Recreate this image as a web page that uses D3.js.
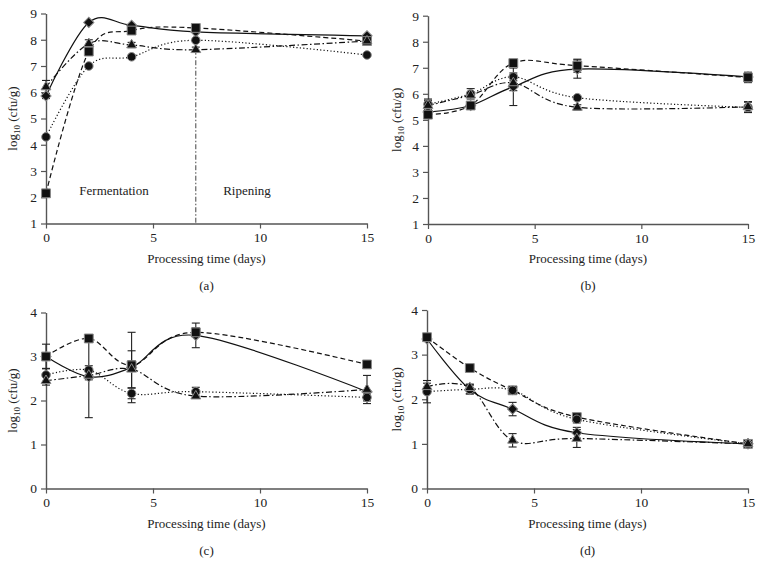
<!DOCTYPE html>
<html>
<head>
<meta charset="utf-8">
<script src="https://cdn.jsdelivr.net/npm/d3@7/dist/d3.min.js"></script>
<style>
  html, body { margin: 0; padding: 0; background: #fff; }
  svg text { font-family: "Liberation Serif", "Times New Roman", serif; fill: #222; }
</style>
</head>
<body>
<svg id="chart" width="762" height="563"></svg>
<script>
// ---------- data ----------
const days = [0, 2, 4, 7, 15];
const xTicks = [0, 5, 10, 15];
const yTicksAB = [1, 2, 3, 4, 5, 6, 7, 8, 9];
const yTicksCD = [0, 1, 2, 3, 4];
const panelLabels = ["(a)", "(b)", "(c)", "(d)"];

// panel (a)
const aDiamond  = [5.86, 8.66, 8.55, 8.30, 8.15];
const aSquare   = [2.15, 7.55, 8.35, 8.45, 7.95];
const aCircle   = [4.30, 7.00, 7.35, 7.98, 7.42];
const aTriangle = [6.20, 7.85, 7.80, 7.62, 7.95];
const aDiamondErr  = [0.10, 0.05, 0.05, 0.05, 0.05];
const aSquareErr   = [0.05, 0.05, 0.08, 0.05, 0.05];
const aCircleErr   = [0.05, 0.05, 0.05, 0.05, 0.05];
const aTriangleErr = [0.25, 0.15, 0.10, 0.10, 0.05];

// panel (b)
const bDiamond  = [5.30, 5.55, 6.27, 6.95, 6.65];
const bSquare   = [5.20, 5.55, 7.18, 7.08, 6.63];
const bCircle   = [5.60, 6.00, 6.65, 5.85, 5.48];
const bTriangle = [5.55, 5.95, 6.42, 5.48, 5.50];
const bDiamondErr  = [0.10, 0.05, 0.72, 0.35, 0.05];
const bSquareErr   = [0.10, 0.05, 0.10, 0.25, 0.20];
const bCircleErr   = [0.20, 0.20, 0.15, 0.05, 0.20];
const bTriangleErr = [0.20, 0.05, 0.30, 0.10, 0.20];

// panel (c)
const cDiamond  = [3.00, 2.54, 2.75, 3.48, 2.20];
const cSquare   = [3.00, 3.41, 2.80, 3.55, 2.82];
const cCircle   = [2.58, 2.69, 2.16, 2.20, 2.07];
const cTriangle = [2.45, 2.57, 2.71, 2.10, 2.25];
const cDiamondErr  = [0.28, 0.93, 0.80, 0.28, 0.05];
const cSquareErr   = [0.05, 0.08, 0.10, 0.10, 0.03];
const cCircleErr   = [0.15, 0.10, 0.12, 0.10, 0.08];
const cTriangleErr = [0.10, 0.10, 0.42, 0.05, 0.32];

// panel (d)
const dDiamond  = [3.35, 2.22, 1.78, 1.25, 1.00];
const dSquare   = [3.39, 2.70, 2.20, 1.60, 1.00];
const dCircle   = [2.17, 2.22, 2.20, 1.55, 1.00];
const dTriangle = [2.28, 2.26, 1.08, 1.12, 1.00];
const dDiamondErr  = [0.03, 0.10, 0.15, 0.12, 0.03];
const dSquareErr   = [0.03, 0.03, 0.05, 0.08, 0.03];
const dCircleErr   = [0.25, 0.10, 0.05, 0.08, 0.03];
const dTriangleErr = [0.08, 0.08, 0.15, 0.20, 0.03];

// ---------- layout ----------
const panels = [
  { label: panelLabels[0], x: [46, 367], y: [223.5, 13.5], yDom: [1, 9], yTicks: yTicksAB,
    series: { diamond: [aDiamond, aDiamondErr], square: [aSquare, aSquareErr], circle: [aCircle, aCircleErr], triangle: [aTriangle, aTriangleErr] },
    ylabX: 17, phase: true },
  { label: panelLabels[1], x: [428, 748], y: [224, 15.7], yDom: [1, 9], yTicks: yTicksAB,
    series: { diamond: [bDiamond, bDiamondErr], square: [bSquare, bSquareErr], circle: [bCircle, bCircleErr], triangle: [bTriangle, bTriangleErr] },
    ylabX: 401 },
  { label: panelLabels[2], x: [46, 367], y: [488.5, 312.5], yDom: [0, 4], yTicks: yTicksCD,
    series: { diamond: [cDiamond, cDiamondErr], square: [cSquare, cSquareErr], circle: [cCircle, cCircleErr], triangle: [cTriangle, cTriangleErr] },
    ylabX: 17 },
  { label: panelLabels[3], x: [427, 748], y: [488.5, 310], yDom: [0, 4], yTicks: yTicksCD,
    series: { diamond: [dDiamond, dDiamondErr], square: [dSquare, dSquareErr], circle: [dCircle, dCircleErr], triangle: [dTriangle, dTriangleErr] },
    ylabX: 401 }
];

const styles = {
  diamond:  { dash: null },
  square:   { dash: "5,3" },
  circle:   { dash: "1.2,2.2" },
  triangle: { dash: "6,2.5,1.5,2.5" }
};
const order = ["diamond", "square", "circle", "triangle"];

const svg = d3.select("#chart");
const axisColor = "#555";
const FONT = '"Liberation Serif", "Times New Roman", serif';

function symPath(kind) {
  if (kind === "diamond") return d3.symbol().type(d3.symbolSquare).size(52)();
  if (kind === "square") return d3.symbol().type(d3.symbolSquare).size(78)();
  if (kind === "circle") return d3.symbol().type(d3.symbolCircle).size(58)();
  return d3.symbol().type(d3.symbolTriangle).size(42)();
}

panels.forEach(p => {
  const x = d3.scaleLinear().domain([0, 15]).range(p.x);
  const y = d3.scaleLinear().domain(p.yDom).range(p.y);
  const g = svg.append("g");

  // axes
  const xAxis = g.append("g").attr("transform", `translate(0,${p.y[0]})`)
    .call(d3.axisBottom(x).tickValues(xTicks).tickFormat(d3.format("d")).tickSize(5).tickPadding(4).tickSizeOuter(0));
  const yAxis = g.append("g").attr("transform", `translate(${p.x[0]},0)`)
    .call(d3.axisLeft(y).tickValues(p.yTicks).tickFormat(d3.format("d")).tickSize(5).tickPadding(4).tickSizeOuter(0));
  [xAxis, yAxis].forEach(a => {
    a.attr("font-family", FONT);
    a.select(".domain").attr("stroke", axisColor).attr("stroke-width", 1.4);
    a.selectAll(".tick line").attr("stroke", axisColor).attr("stroke-width", 1.2);
    a.selectAll(".tick text").attr("font-size", 13.5).attr("fill", "#222");
  });

  // axis titles
  g.append("text").attr("x", (p.x[0] + p.x[1]) / 2).attr("y", p.y[0] + 39)
    .attr("text-anchor", "middle").attr("font-size", 13).text("Processing time (days)");
  g.append("text").attr("x", (p.x[0] + p.x[1]) / 2).attr("y", p.y[0] + 66)
    .attr("text-anchor", "middle").attr("font-size", 13).text(p.label);
  const yl = g.append("text")
    .attr("transform", `translate(${p.ylabX},${(p.y[0] + p.y[1]) / 2}) rotate(-90)`)
    .attr("text-anchor", "middle").attr("font-size", 13);
  yl.append("tspan").text("log");
  yl.append("tspan").attr("font-size", 9).attr("dy", 3).text("10");
  yl.append("tspan").attr("dy", -3).text(" (cfu/g)");

  // phase marker (panel a)
  if (p.phase) {
    g.append("line").attr("x1", x(7)).attr("x2", x(7))
      .attr("y1", y(aTriangle[3])).attr("y2", y(p.yDom[0]))
      .attr("stroke", "#444").attr("stroke-width", 1).attr("stroke-dasharray", "5,2,1.5,2");
    g.append("text").attr("x", 114).attr("y", 195).attr("text-anchor", "middle")
      .attr("font-size", 13).text("Fermentation");
    g.append("text").attr("x", 247).attr("y", 195).attr("text-anchor", "middle")
      .attr("font-size", 13).text("Ripening");
  }

  const line = d3.line().x((d, i) => x(days[i])).y(d => y(d)).curve(d3.curveCardinal.tension(0));

  order.forEach(k => {
    const vals = p.series[k][0];
    g.append("path").attr("d", line(vals)).attr("fill", "none")
      .attr("stroke", "#111").attr("stroke-width", 1.2)
      .attr("stroke-dasharray", styles[k].dash);
  });

  order.forEach(k => {
    const [vals, errs] = p.series[k];
    vals.forEach((v, i) => {
      const e = errs[i];
      if (e < 0.06) return;
      const cx = x(days[i]);
      g.append("line").attr("x1", cx).attr("x2", cx).attr("y1", y(v - e)).attr("y2", y(v + e))
        .attr("stroke", "#222").attr("stroke-width", 1.1);
      [v - e, v + e].forEach(yy => {
        g.append("line").attr("x1", cx - 4).attr("x2", cx + 4).attr("y1", y(yy)).attr("y2", y(yy))
          .attr("stroke", "#222").attr("stroke-width", 1.1);
      });
    });
  });

  order.forEach(k => {
    const vals = p.series[k][0];
    g.selectAll(null).data(vals).enter().append("path")
      .attr("d", symPath(k))
      .attr("transform", (d, i) => `translate(${x(days[i])},${y(d)})` + (k === "diamond" ? " rotate(45)" : ""))
      .attr("fill", "#111").attr("stroke", "#888").attr("stroke-width", 1);
  });
});
</script>
</body>
</html>
